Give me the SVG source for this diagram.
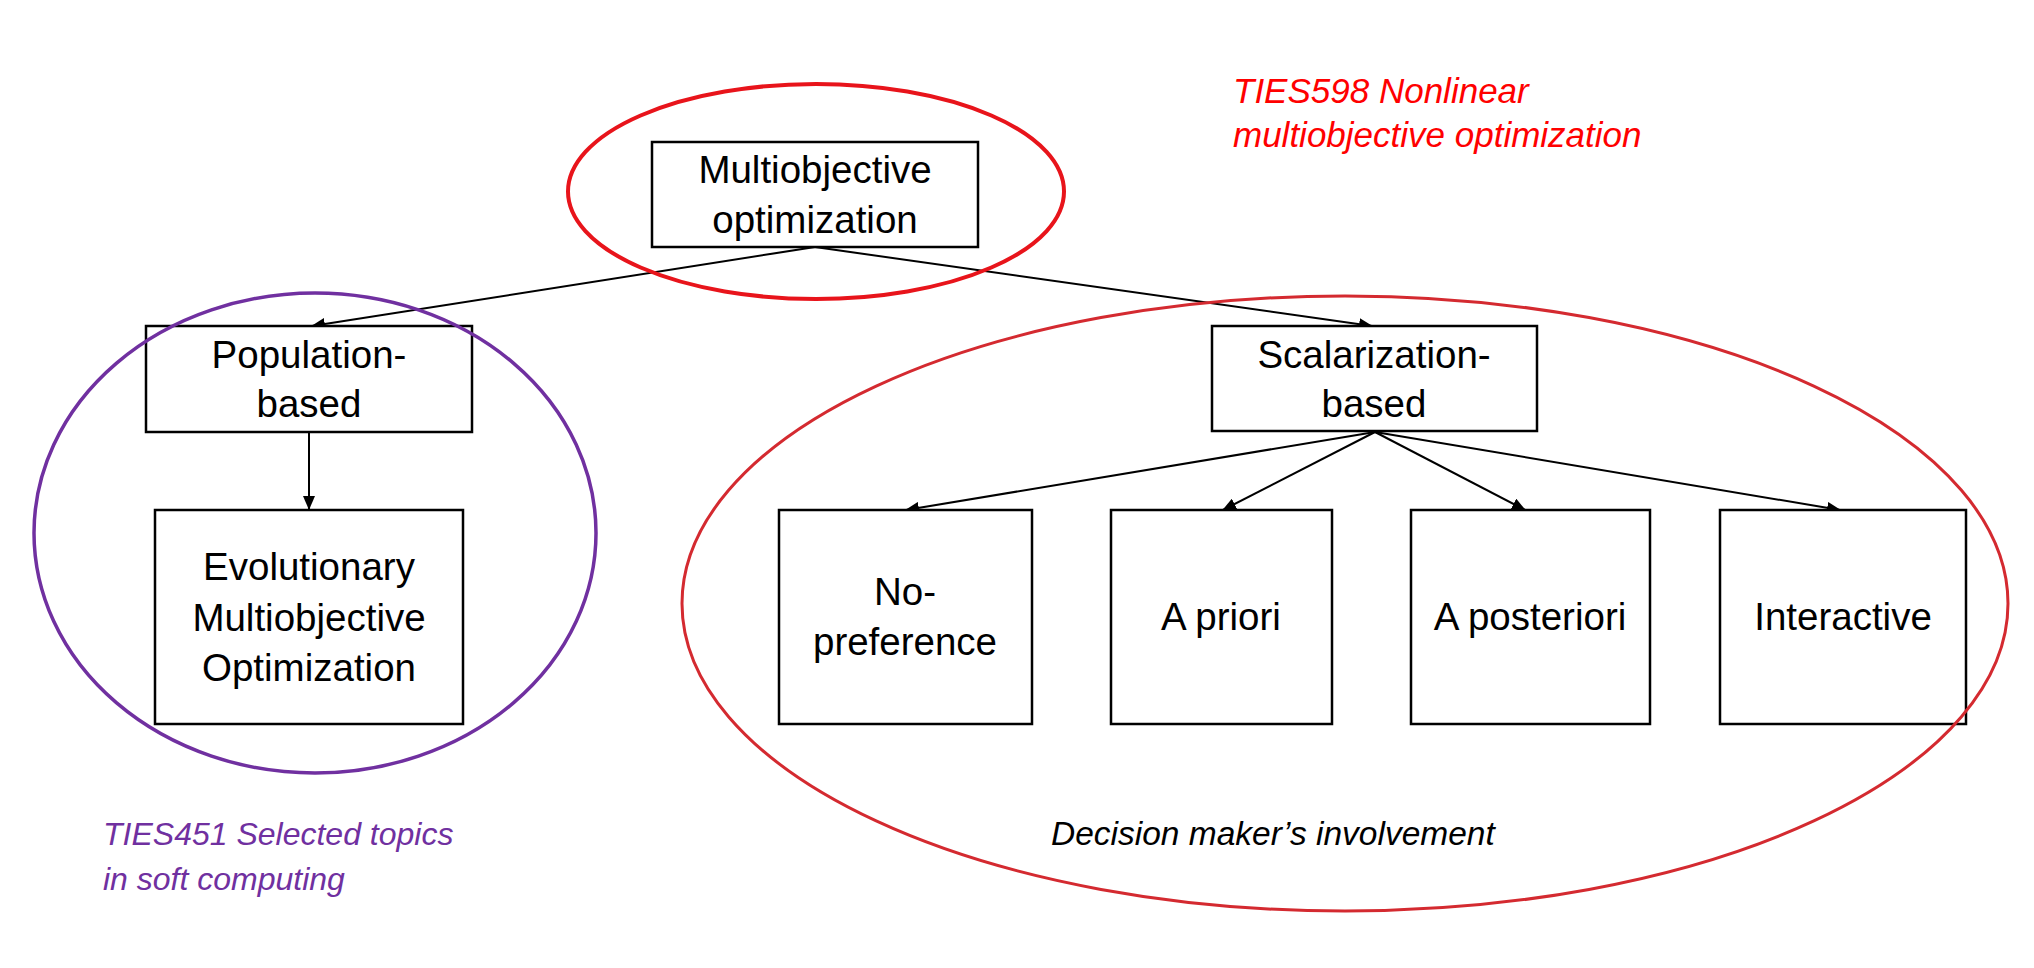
<svg xmlns="http://www.w3.org/2000/svg" width="2034" height="968" viewBox="0 0 2034 968">
<style>
.box{fill:#fff;stroke:#000;stroke-width:2.5}
.t{font-family:"Liberation Sans",Arial,sans-serif;font-size:38.5px;fill:#000;text-anchor:middle}
.it{font-family:"Liberation Sans",Arial,sans-serif;font-style:italic}
.edge{stroke:#000;stroke-width:2;fill:none;marker-end:url(#ah)}
</style>
<defs>
<marker id="ah" markerUnits="userSpaceOnUse" markerWidth="14" markerHeight="12" refX="13" refY="6" orient="auto">
<path d="M0,0 L14,6 L0,12 z" fill="#000"/>
</marker>
</defs>
<rect width="2034" height="968" fill="#fff"/>
<g id="connectors">
<line class="edge" x1="815" y1="247" x2="312" y2="326"/>
<line class="edge" x1="815" y1="247" x2="1372" y2="326"/>
<line class="edge" x1="309" y1="432" x2="309" y2="509"/>
<line class="edge" x1="1375" y1="432" x2="906" y2="510"/>
<line class="edge" x1="1375" y1="432" x2="1223" y2="510"/>
<line class="edge" x1="1375" y1="432" x2="1525" y2="510"/>
<line class="edge" x1="1375" y1="432" x2="1840" y2="510"/>
</g>
<g id="multiobjective">
<rect class="box" x="652" y="142" width="326" height="105"/>
<text class="t" x="815" y="183" font-size="40">Multiobjective</text>
<text class="t" x="815" y="233" font-size="40">optimization</text>
</g>
<g id="population">
<rect class="box" x="146" y="326" width="326" height="106"/>
<text class="t" x="309" y="368">Population-</text>
<text class="t" x="309" y="417">based</text>
</g>
<g id="evolutionary">
<rect class="box" x="155" y="510" width="308" height="214"/>
<text class="t" x="309" y="580">Evolutionary</text>
<text class="t" x="309" y="631">Multiobjective</text>
<text class="t" x="309" y="681">Optimization</text>
</g>
<g id="scalarization">
<rect class="box" x="1212" y="326" width="325" height="105"/>
<text class="t" x="1374" y="368">Scalarization-</text>
<text class="t" x="1374" y="417">based</text>
</g>
<g id="nopreference">
<rect class="box" x="779" y="510" width="253" height="214"/>
<text class="t" x="905" y="605">No-</text>
<text class="t" x="905" y="655">preference</text>
</g>
<g id="apriori">
<rect class="box" x="1111" y="510" width="221" height="214"/>
<text class="t" x="1221" y="630">A priori</text>
</g>
<g id="aposteriori">
<rect class="box" x="1411" y="510" width="239" height="214"/>
<text class="t" x="1530" y="630">A posteriori</text>
</g>
<g id="interactive">
<rect class="box" x="1720" y="510" width="246" height="214"/>
<text class="t" x="1843" y="630">Interactive</text>
</g>
<g id="groupings">
<ellipse cx="816" cy="191.5" rx="248" ry="107.5" fill="none" stroke="#e8141b" stroke-width="4"/>
<ellipse cx="315" cy="533" rx="281" ry="240" fill="none" stroke="#7030a0" stroke-width="3.5"/>
<ellipse cx="1345" cy="603.5" rx="663" ry="307.5" fill="none" stroke="#d42a30" stroke-width="3"/>
</g>
<g id="labels">
<text class="it" x="1233" y="103" font-size="35" fill="#ff0000">TIES598 Nonlinear</text>
<text class="it" x="1233" y="147" font-size="35" fill="#ff0000">multiobjective optimization</text>
<text class="it" x="103" y="845" font-size="32" fill="#7030a0">TIES451 Selected topics</text>
<text class="it" x="103" y="890" font-size="32" fill="#7030a0">in soft computing</text>
<text class="it" x="1051" y="845" font-size="33.5" fill="#000">Decision maker’s involvement</text>
</g>
</svg>
